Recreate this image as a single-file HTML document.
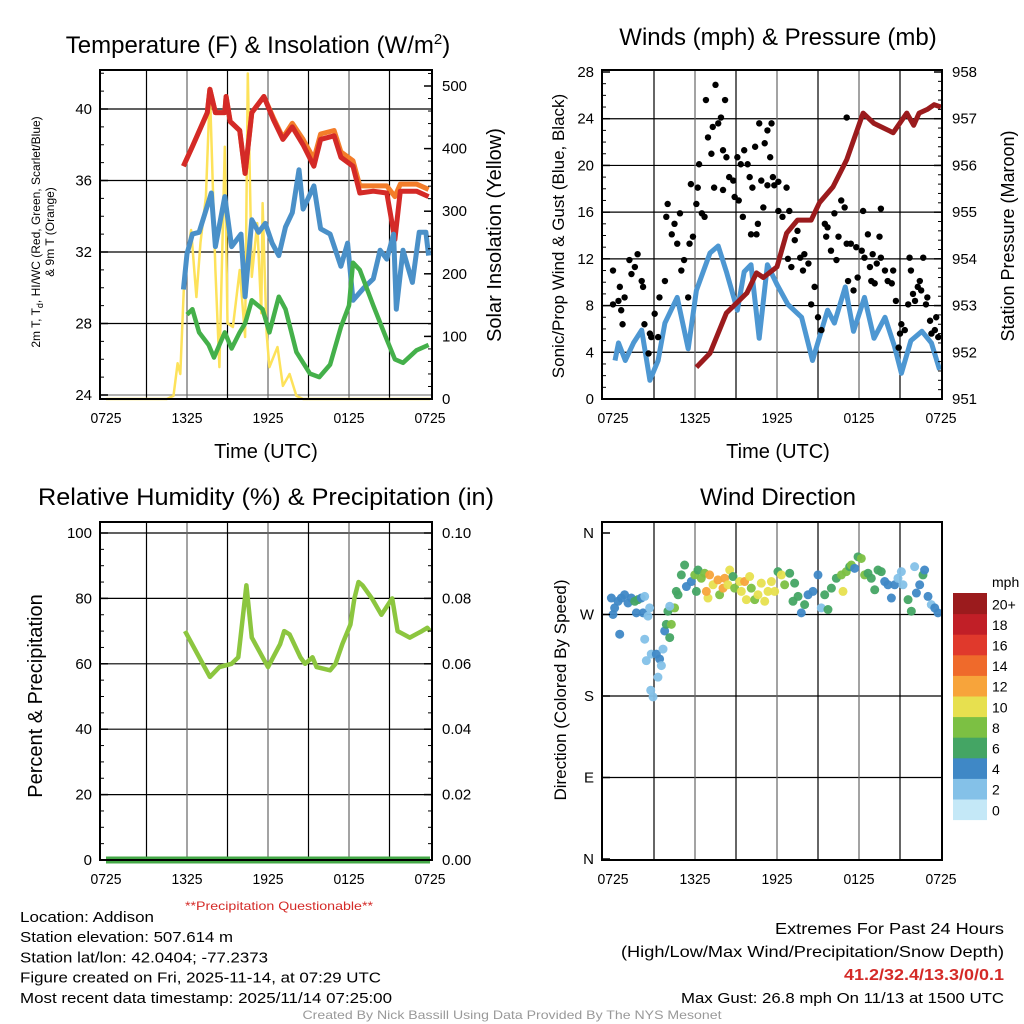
<!DOCTYPE html>
<html><head><meta charset="utf-8"><style>
html,body{margin:0;padding:0;background:#fff}
svg{display:block;font-family:"Liberation Sans",sans-serif}
</style></head><body>
<svg id="c" width="1024" height="1024" viewBox="0 0 1024 1024"></svg>
<script>
// ---------------- DATA ----------------
const hourTicks=[0,6,12,18,24];
const hourTickLabels=["0725","1325","1925","0125","0725"];
// Panel 1
const tempHours=[5.73,6.4,7.5,7.7,8.1,8.8,8.9,9.2,9.9,10.3,10.8,11.7,12.4,13.1,13.8,14.6,15.4,15.9,16.9,17.4,18.3,18.8,19.8,20.8,21.4,21.8,23,23.9];
const tempRed=[36.8,37.9,39.8,41.1,39.8,39.8,40.7,39.3,38.8,36.4,39.8,40.7,39.4,38.3,39,38,36.8,38.3,38.5,37.3,36.8,35.3,35.4,35.3,32.7,35.4,35.4,35.1];
const tempOrange=[36.8,37.9,39.8,41.1,39.8,39.8,40.7,39.3,38.8,36.4,39.8,40.7,39.5,38.4,39.2,38.3,37.2,38.6,38.8,37.6,37.1,35.7,35.7,35.7,35.1,35.8,35.8,35.5];
const blueHours=[5.73,6,6.4,6.9,7.8,8.1,8.8,9.3,10,10.3,10.8,11.3,11.8,12.3,12.8,13.3,13.8,14.3,14.6,15.4,15.9,16.6,17.4,17.9,18.3,19.1,19.8,20.3,20.8,21.3,21.5,22,22.7,23.2,23.7,23.9];
const blueVals=[29.9,31.9,33,33.1,35.3,32.3,35.1,32.3,33,29.5,33.8,33.1,33.6,32.5,31.8,33.4,34.2,36.6,34.4,35.7,33.3,33,31.2,32.5,29.3,30,30.5,32.1,31.6,33,28.8,32.1,30.3,33.1,33.1,31.8];
const greenHours=[6,6.4,6.9,7.6,8,8.4,8.8,9.3,9.9,10.3,10.8,11.6,12.1,12.8,13.3,14.1,15.1,15.8,16.6,17.4,18,18.3,18.8,19.8,20.8,21.4,22,23,23.9];
const greenVals=[28.5,28.8,27.5,26.8,26.1,26.8,27.5,26.6,27.5,28,29.3,28.8,27.5,29.5,28.8,26.4,25.2,25,25.7,27.8,29,31.4,31,29,27.1,26,25.8,26.5,26.8];
const solarHours=[0,4.5,5,5.3,5.5,5.8,6.3,6.7,7,7.4,7.7,8.1,8.4,8.8,9,9.4,9.9,10.3,10.5,10.8,11.2,11.5,11.6,11.9,12.1,12.7,13.1,13.6,14.1,14.6,24];
const solarVals=[0,0,5,57,40,195,270,163,250,323,493,206,51,403,121,115,206,99,520,195,281,137,313,105,51,83,21,40,5,0,0];
// Panel 2
const windHours=[0.15,0.4,0.9,1.5,2.1,2.7,3.3,3.8,4.7,5.5,6.1,7.1,7.7,8.3,9.1,9.6,10.1,10.7,11.3,12,12.8,13.8,14.6,15.7,16.2,17,17.6,18.4,19.1,19.9,20.6,21.1,21.8,22.6,23.3,23.9];
const windVals=[3.3,4.8,3.3,4.8,5.9,1.6,3.3,6.5,8.7,4.3,9.3,12.5,13.1,10.9,7.6,10.9,11.5,5.2,11.5,9.8,8.1,7,3.3,7.6,6.5,9.6,5.8,8.7,5.2,7,4.5,2.2,5,5.8,4.8,2.5];
const gustHours=[0,0,0.5,0.4,0.6,0.85,0.7,1.2,1.35,1.6,1.8,2.1,2.2,2.3,2.6,2.7,2.8,3.05,3.3,3.4,3.8,4,3.9,4.3,4.5,4.7,4.9,5,5.2,5.5,5.6,5.85,5.7,6.1,6.2,6.3,6.5,6.7,6.8,6.95,7.2,7.3,7.4,7.5,7.7,7.9,8.05,8.2,8.3,8.05,8.5,8.8,8.9,9.1,9.2,9.35,9.5,9.6,9.85,10,10.1,10.2,10.5,10.4,10.6,10.7,10.85,11,11.1,11.3,11.5,11.6,11.3,11.7,11.8,12.1,12.1,12.4,12.7,12.9,12.8,13.05,13.3,13.5,13.7,13.9,14,14.3,14.5,14.75,15,15.25,15.5,15.7,15.6,15.95,16.2,16.35,16.5,16.7,16.95,17.1,17.2,17.4,17.6,17.8,17.9,18.2,18.3,18.4,18.65,18.8,18.9,19,19.15,19.3,19.5,19.6,19.6,19.9,20.1,20.4,20.5,20.7,20.9,21,21.1,21.35,21.6,21.7,21.8,21.95,22.1,22.3,22.45,22.55,22.7,22.9,23,23.2,23.3,23.55,23.65,23.8,17.1];
const gustVals=[11,8.1,9.6,8.4,7.6,8.7,6.4,11.9,10.7,11.3,12.4,10.1,9.6,6.4,3.9,5.6,5.3,7.3,5.3,8.7,10.1,16.7,15.6,14.1,15,13.3,15.9,11,11.9,8.7,13.3,13.9,18.4,16.7,18.1,20.1,15.9,15.6,25.6,22.4,21,23.3,18.1,26.9,23.6,24.1,21.3,25.6,20.7,17.9,19,18.7,17.3,20.7,17,20.1,15.6,21.3,20.1,19,14.1,18.1,14.1,21.6,15,23.6,18.7,16.4,21.9,23,20.7,23.6,18.3,19,18.3,18.6,16.1,15.6,18.1,16.1,12,11.3,13.6,14.4,12.1,11,12.4,11.6,8.1,9.6,7,5.9,15,14.7,13.9,12.7,15.9,11.9,13.9,17,16.4,13.3,10.1,13.3,9.3,13,10.4,12.7,16.1,12.1,14.1,11.3,10.1,12.4,9.9,11.6,13.9,12.1,16.3,11,10.1,9.9,11,8.4,4.4,5.6,6.4,5.9,8.1,12.1,11,9,8.4,9.6,10.1,9.3,12.1,8.1,8.7,6.7,5.6,5.9,7,5.3,24.1];
const presHours=[6.1,7.1,8.3,9.8,10.5,11,12,12.7,13.5,14.5,15.1,16.1,17.1,18.3,19.1,20.5,21.5,22,22.4,23,23.5,24];
const presVals=[951.68,951.98,952.84,953.27,953.7,953.6,953.83,954.55,954.83,954.83,955.2,955.54,956.12,957.12,956.9,956.7,957.12,956.86,957.12,957.2,957.3,957.25];
// Panel 3
const rhHours=[5.85,7.7,8.4,9.3,9.8,10.4,10.8,11.6,12.0,12.9,13.2,13.6,14.4,14.75,15.3,15.6,16.6,17,17.5,18.1,18.4,18.7,19,19.7,20.4,21.2,21.6,22.5,23.4,23.8,24];
const rhVals=[70,56,59,60,62,84,68,62,59,66,70,69,62,60,62,59,58,60,66,72,80,85,84,80,75,80,70,68,70,71,70];
const precipHours=[0,24];
const precipVals=[0,0];
// Panel 4
const dirHours=[];const dirVals=[];const dirSpeeds=[];
const dirRaw=[[40,170,3],[50,200,3],[60,180,4],[70,170,4],[80,160,4],[90,185,4],[100,170,4],[110,180,6],[120,175,6],[130,170,4],[140,165,2],[45,220,4],[65,280,4],[115,215,4],[135,215,4],[150,225,2],[155,200,2],[140,295,2],[145,360,2],[160,340,2],[175,340,4],[185,355,4],[190,375,2],[195,325,2],[180,410,2],[158,450,2],[165,470,2],[200,270,4],[205,250,6],[215,290,6],[220,250,8],[210,210,6],[230,200,8],[215,195,2],[235,150,6],[240,160,6],[250,100,6],[260,70,6],[265,135,4],[280,120,4],[290,100,8],[300,85,6],[310,110,8],[295,150,6],[320,95,8],[330,170,10],[325,150,12],[335,100,12],[345,130,10],[360,115,12],[365,160,8],[375,140,12],[380,110,12],[390,130,10],[395,85,10],[405,105,6],[410,140,8],[425,120,10],[430,150,10],[440,120,12],[445,175,10],[455,105,10],[460,140,8],[470,175,8],[480,160,10],[490,125,10],[500,180,10],[510,150,10],[520,120,10],[530,150,10],[540,90,6],[550,100,10],[560,130,8],[575,95,6],[585,180,6],[590,125,6],[600,165,6],[610,215,4],[620,190,6],[630,160,4],[645,150,4],[660,100,4],[670,200,2],[680,160,6],[690,205,6],[700,140,6],[715,110,6],[730,100,8],[735,150,10],[745,90,8],[755,75,6],[760,70,8],[770,80,4],[780,45,6],[790,50,8],[800,100,8],[810,95,6],[820,110,6],[830,145,6],[840,85,6],[850,90,6],[860,120,4],[870,130,4],[880,170,4],[890,130,4],[900,110,2],[910,90,2],[915,130,2],[930,175,6],[940,210,6],[950,75,2],[955,155,4],[965,130,4],[975,100,6],[980,85,4],[990,165,4],[1000,190,2],[1010,200,4],[1020,215,4]];
dirRaw.forEach(r=>{dirHours.push(+(3+(r[0]-168)/41).toFixed(2));dirVals.push(+(270+(220-r[1])*0.364).toFixed(1));dirSpeeds.push(r[2]);});
const speedBins=[0,2,4,6,8,10,12,14,16,18,20];
const speedLabels=["0","2","4","6","8","10","12","14","16","18","20+"];
const speedColors=["#c4e8f7","#84c1e8","#3f88c6","#44a564","#7cc043","#e7e04f","#f7a43b","#ef6a2b","#e0392c","#c11f27","#9b1b1d"];

// ---------------- HELPERS ----------------
const NS="http://www.w3.org/2000/svg";const svg=document.getElementById('c');
function el(tag,attrs,parent){const e=document.createElementNS(NS,tag);for(const k in attrs)e.setAttribute(k,attrs[k]);(parent||svg).appendChild(e);return e;}
function txt(s,x,y,size,anchor,extra,parent){const t=el('text',Object.assign({x:x,y:y,'font-size':size,'text-anchor':anchor||'middle',fill:'#000'},extra||{}),parent);t.textContent=s;return t;}
function lin(d0,d1,r0,r1){return v=>r0+(v-d0)*(r1-r0)/(d1-d0);}
function path(xs,ys,fx,fy){return xs.map((h,i)=>(i?'L':'M')+fx(h).toFixed(1)+','+fy(ys[i]).toFixed(1)).join('');}

function frame(L,T,R,B,fx,name){
  const g=el('g',{});
  
  
  for(let h=3;h<24;h+=3){const x=fx(h);const l=el('line',{x1:x,x2:x,y1:T,y2:B,stroke:(h%6==0)?'#666':'#000','stroke-width':1.2},g);
    
    }
  hourTicks.forEach((h,i)=>{const t=txt(hourTickLabels[i],fx(h),B+24,15,'middle',{textLength:31,lengthAdjust:'spacingAndGlyphs'},g);
    
    });
  return g;
}
function box(L,T,R,B){const r=el('rect',{x:L,y:T,width:R-L,height:B-T,fill:'none',stroke:'#000','stroke-width':2});
  
  }
function yticks(ticks,labels,fy,xAxis,side,minor){
  ticks.forEach((v,i)=>{const y=fy(v);const d=side=='l'?1:-1;
    el('line',{x1:xAxis,x2:xAxis+d*8,y1:y,y2:y,stroke:'#000','stroke-width':1.5});
    const t=txt(labels[i],side=='l'?xAxis-8:xAxis+10,y+5,15,side=='l'?'end':'start');
    
    });
  (minor||[]).forEach(v=>{const y=fy(v);const d=side=='l'?1:-1;el('line',{x1:xAxis,x2:xAxis+d*4,y1:y,y2:y,stroke:'#000','stroke-width':1});});
}
function range(a,b,s){const r=[];for(let v=a;v<=b+1e-9;v+=s)r.push(+v.toFixed(4));return r;}

// ---------------- PANEL 1 ----------------
(function(){
const L=100,R=432,T=70,B=399;const fx=lin(0,24,106,430);const fy=lin(24,40,395,109);const fs=lin(0,500,399,86);
const tv=[24,28,32,36,40];
tv.forEach(v=>{if(v==24)return;const l=el('line',{x1:L,x2:R,y1:fy(v),y2:fy(v),stroke:'#000','stroke-width':1.2});
  
  });
el('line',{x1:L,x2:R,y1:fy(24),y2:fy(24),stroke:'#999','stroke-width':1.5});
frame(L,T,R,B,fx,'temperature');
const s=el('path',{d:path(solarHours,solarVals,fx,fs),fill:'none',stroke:'#fde25a','stroke-width':2.5,'stroke-linejoin':'round'});


const o=el('path',{d:path(tempHours,tempOrange,fx,fy),fill:'none',stroke:'#f37d2a','stroke-width':5,'stroke-linejoin':'round'});


const r=el('path',{d:path(tempHours,tempRed,fx,fy),fill:'none',stroke:'#d42a27','stroke-width':5,'stroke-linejoin':'round'});


const b=el('path',{d:path(blueHours,blueVals,fx,fy),fill:'none',stroke:'#4a90c8','stroke-width':5,'stroke-linejoin':'round'});


const g=el('path',{d:path(greenHours,greenVals,fx,fy),fill:'none',stroke:'#44b04a','stroke-width':4.5,'stroke-linejoin':'round'});


box(L,T,R,B);
yticks(tv,tv.map(String),fy,L,'l',range(25,42,1));
const sv=[0,100,200,300,400,500];yticks(sv,sv.map(String),fs,R,'r',range(20,520,20));
let t=txt('Temperature (F) & Insolation (W/m',258,53,24,'middle',{});
const sup=el('tspan',{dy:-9,'font-size':15});sup.textContent='2';t.appendChild(sup);const cl=el('tspan',{dy:9});cl.textContent=')';t.appendChild(cl);
t=txt('Time (UTC)',266,458,20);
t=txt('2m T, T',0,0,12,'middle',{transform:'translate(40,232) rotate(-90)'});
const sb=el('tspan',{'font-size':9,dy:3});sb.textContent='d';t.appendChild(sb);const rs=el('tspan',{dy:-3});rs.textContent=', HI/WC (Red, Green, Scarlet/Blue)';t.appendChild(rs);

t=txt('& 9m T (Orange)',0,0,12,'middle',{transform:'translate(54,232) rotate(-90)'});
t=txt('Solar Insolation (Yellow)',0,0,20,'middle',{transform:'translate(501,235) rotate(-90)'});
})();

// ---------------- PANEL 2 ----------------
(function(){
const L=602,R=942,T=70,B=399;const fx=lin(0,24,613,941);const fy=lin(0,28,399,72);const fp=lin(951,958,399,72);
const tv=[0,4,8,12,16,20,24,28];
tv.forEach(v=>{if(v==0||v==28)return;const l=el('line',{x1:L,x2:R,y1:fy(v),y2:fy(v),stroke:'#000','stroke-width':1.2});
  
  });
frame(L,T,R,B,fx,'winds');
const w=el('path',{d:path(windHours,windVals,fx,fy),fill:'none',stroke:'#4d97d2','stroke-width':5,'stroke-linejoin':'round'});


gustHours.forEach((h,i)=>{const c=el('circle',{cx:fx(h),cy:fy(gustVals[i]),r:3.2,fill:'#000'});
  
  });
const p=el('path',{d:path(presHours,presVals,fx,fp),fill:'none',stroke:'#9b1b1d','stroke-width':5,'stroke-linejoin':'round'});


box(L,T,R,B);
yticks(tv,tv.map(String),fy,L,'l',range(1,27,1));
const pv=[951,952,953,954,955,956,957,958];yticks(pv,pv.map(String),fp,R,'r',range(951.2,957.8,0.2));
let t=txt('Winds (mph) & Pressure (mb)',778,45,24);
t=txt('Time (UTC)',778,458,20);
t=txt('Sonic/Prop Wind & Gust (Blue, Black)',0,0,17,'middle',{transform:'translate(564,236) rotate(-90)'});
t=txt('Station Pressure (Maroon)',0,0,18,'middle',{transform:'translate(1014,236) rotate(-90)'});
})();

// ---------------- PANEL 3 ----------------
(function(){
const L=100,R=432,T=522,B=860;const fx=lin(0,24,106,430);const fy=lin(0,100,860,533);const fpr=lin(0,0.1,860,533);
const tv=[0,20,40,60,80,100];
tv.forEach(v=>{if(v==0)return;const l=el('line',{x1:L,x2:R,y1:fy(v),y2:fy(v),stroke:'#000','stroke-width':1.2});
  
  });
frame(L,T,R,B,fx,'humidity');
const r=el('path',{d:path(rhHours,rhVals,fx,fy),fill:'none',stroke:'#8cc63f','stroke-width':4.5,'stroke-linejoin':'round'});


const p=el('path',{d:path(precipHours,precipVals,fx,fpr),fill:'none',stroke:'#44a847','stroke-width':7});


box(L,T,R,B);
yticks(tv,tv.map(String),fy,L,'l',range(5,95,5));
const pv=[0,0.02,0.04,0.06,0.08,0.1];yticks(pv,pv.map(v=>v.toFixed(2)),fpr,R,'r',range(0.005,0.095,0.005));
let t=txt('Relative Humidity (%) & Precipitation (in)',266,505,24,'middle',{textLength:456,lengthAdjust:'spacingAndGlyphs'});
t=txt('Percent & Precipitation',0,0,20,'middle',{transform:'translate(42,696) rotate(-90)'});
t=txt('**Precipitation Questionable**',279,910,12,'middle',{fill:'#d42a27',textLength:188,lengthAdjust:'spacingAndGlyphs'});
})();

// ---------------- PANEL 4 ----------------
(function(){
const L=602,R=942,T=522,B=860;const fx=lin(0,24,613,941);const fy=lin(0,360,859,533);
const dv=[0,90,180,270,360];const dl=['N','E','S','W','N'];
dv.forEach(v=>{if(v==0||v==360)return;const l=el('line',{x1:L,x2:R,y1:fy(v),y2:fy(v),stroke:'#000','stroke-width':1.2});
  
  });
frame(L,T,R,B,fx,'direction');
dirHours.forEach((h,i)=>{const k=Math.min(10,Math.round(dirSpeeds[i]/2));const c=el('circle',{cx:fx(h),cy:fy(dirVals[i]),r:4.5,fill:speedColors[k],'fill-opacity':0.95});
  
  });
box(L,T,R,B);
yticks(dv,dl,fy,L,'l',[]);
let t=txt('Wind Direction',778,505,24);
t=txt('Direction (Colored By Speed)',0,0,17,'middle',{transform:'translate(566,690) rotate(-90)'});
const cg=el('g',{});
const top=593,bh=20.6;
speedBins.forEach((v,i)=>{const y=top+(10-i)*bh;const rr=el('rect',{x:953,y:y,width:34,height:bh+0.5,fill:speedColors[i]},cg);
  
  
  const tt=txt(speedLabels[i],992,y+bh/2+6,14,'start',{},cg);
  
  });
t=txt('mph',992,587,14,'start');
})();

// ---------------- FOOTER TEXT ----------------
const leftLines=["Location: Addison","Station elevation: 507.614 m","Station lat/lon: 42.0404; -77.2373","Figure created on Fri, 2025-11-14, at 07:29 UTC","Most recent data timestamp: 2025/11/14 07:25:00"];
const leftW=[134,213,248,361,372];
leftLines.forEach((s,i)=>{const t=txt(s,20,922+i*20.2,15,'start',{textLength:leftW[i],lengthAdjust:'spacingAndGlyphs'});
  
  });
const rightLines=["Extremes For Past 24 Hours","(High/Low/Max Wind/Precipitation/Snow Depth)","41.2/32.4/13.3/0/0.1","Max Gust: 26.8 mph On 11/13 at 1500 UTC"];
const rightW=[229,383,160,323];const rightY=[934,957,980,1003];
rightLines.forEach((s,i)=>{const ex={textLength:rightW[i],lengthAdjust:'spacingAndGlyphs'};if(i==2){ex.fill='#d42a27';ex['font-weight']='bold';}
  const t=txt(s,1004,rightY[i],i==3?15:16,'end',ex);
  
  });
const ft=txt('Created By Nick Bassill Using Data Provided By The NYS Mesonet',512,1019,12,'middle',{fill:'#999',textLength:419,lengthAdjust:'spacingAndGlyphs'});


</script>
</body></html>
